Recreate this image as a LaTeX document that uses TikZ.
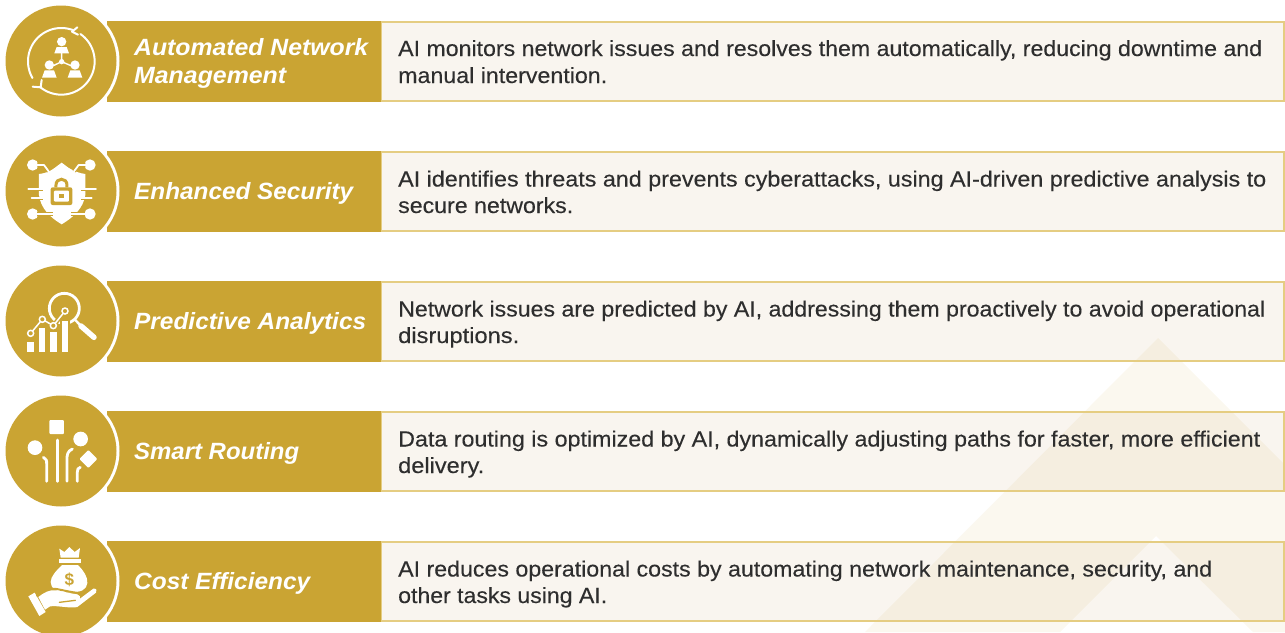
\documentclass[tikz,border=0pt]{standalone}
\usepackage{fontspec}
\usepackage{graphicx}
\setmainfont{Liberation Sans}
\newfontfamily\bodyfont[FakeBold=0.2]{Liberation Sans}
\definecolor{gold}{HTML}{CAA433}
\definecolor{creamy}{HTML}{F9F5EF}
\definecolor{edgegold}{HTML}{E5CD82}
\definecolor{inktext}{HTML}{2E2E2E}
\newcommand{\fitw}[2]{\resizebox{#1pt}{\height}{#2}}
\tikzset{
  x=1pt,y=-1pt,
  goldbar/.style={fill=gold,draw=none},
  descbox/.style={fill=creamy,draw=none},
  halo/.style={circle,fill=white,draw=none,minimum size=117pt,inner sep=0pt},
  disc/.style={circle,fill=gold,draw=none,minimum size=111pt,inner sep=0pt},
  titletext/.style={anchor=base west,inner sep=0pt,text=white,font=\fontsize{23.5}{26}\selectfont\bfseries\itshape},
  bodytext/.style={anchor=base west,inner sep=0pt,text=inktext,font=\fontsize{22}{24}\bodyfont},
  ico/.style={draw=white,line width=2pt,line cap=round,line join=round},
  zoomed/.style={shift={(0,#1)},x=0.33333pt,y=-0.33333pt},
}
\begin{document}
\begin{tikzpicture}
\useasboundingbox (0,0) rectangle (1285,632);
\fill[white] (0,0) rectangle (1285,632);
% cream boxes
\foreach \t in {21,151,281,411,541}{
  \fill[descbox] (381,\t+0.5) rectangle (1284,\t+80);
}
% pale chevron
\fill[gold,opacity=0.075] (1158,338) -- (1285,465) -- (1285,632) -- (1253,632) -- (1156,536) -- (1060,632) -- (865,632) -- cycle;
% box edges and gold bars
\foreach \t in {21,151,281,411,541}{
  \draw[edgegold,line width=2pt] (381,\t+0.5) rectangle (1284,\t+80);
  \fill[goldbar] (107,\t) rectangle (381,\t+81);
}
\node[halo] (h1) at (61,61) {};  \node[disc] (d1) at (61,61) {};
\node[halo] (h2) at (61,191) {}; \node[disc] (d2) at (61,191) {};
\node[halo] (h3) at (61,321) {}; \node[disc] (d3) at (61,321) {};
\node[halo] (h4) at (61,451) {}; \node[disc] (d4) at (61,451) {};
\node[halo] (h5) at (61,581) {}; \node[disc] (d5) at (61,581) {};

% ICON 1
\begin{scope}[zoomed=0]
\draw[ico] plot[domain=-55:128,samples=40,smooth] ({184+100*cos(\x)},{184+100*sin(\x)});
\draw[ico] plot[domain=150:290,samples=40,smooth] ({184+100*cos(\x)},{184+100*sin(\x)});
\draw[ico] (232,82) -- (216,95) -- (234,104);
\draw[ico] (98,260) -- (122,262) -- (125,240);
\fill[white] (185,125) circle[radius=14];
\fill[white] (148,195) circle[radius=14];
\fill[white] (225,195) circle[radius=14];
\fill[white] (170,141) -- (200,141) -- (207,160) -- (163,160) -- cycle;
\fill[white] (134,211) -- (162,211) -- (170,233) -- (126,233) -- cycle;
\fill[white] (211,211) -- (239,211) -- (247,233) -- (203,233) -- cycle;
\draw[ico,line width=1.4pt] (185,158) -- (185,185) -- (160,197);
\draw[ico,line width=1.4pt] (185,185) -- (213,197);
\fill[white] (185,185) circle[radius=8];
\end{scope}

% ICON 2
\begin{scope}[zoomed=130]
\fill[white] (185,98) -- (205,113) .. controls (225,125) and (240,130) .. (256,132) -- (256,195) .. controls (250,235) and (220,262) .. (185,283) .. controls (150,262) and (122,235) .. (117,195) -- (117,132) .. controls (135,130) and (150,125) .. (165,113) -- cycle;
\fill[white] (98,105) circle[radius=17];
\fill[white] (270,105) circle[radius=17];
\fill[white] (98,252) circle[radius=17];
\fill[white] (270,252) circle[radius=17];
\draw[gold,line width=3.6pt,line join=round] (112,105) -- (132,105) -- (146,124);
\draw[gold,line width=3.6pt,line join=round] (256,105) -- (236,105) -- (222,124);
\draw[gold,line width=3.6pt] (112,252) -- (158,252);
\draw[gold,line width=3.6pt] (256,252) -- (212,252);
\draw[ico,line width=1.8pt] (98,105) -- (132,105) -- (146,124);
\draw[ico,line width=1.8pt] (270,105) -- (236,105) -- (222,124);
\draw[ico,line width=1.8pt] (98,252) -- (158,252);
\draw[ico,line width=1.8pt] (270,252) -- (212,252);
\draw[gold,line width=3.6pt] (100,178) -- (128,178);
\draw[gold,line width=3.6pt] (100,205) -- (128,205);
\draw[gold,line width=3.6pt] (272,178) -- (244,178);
\draw[gold,line width=3.6pt] (272,205) -- (244,205);
\draw[ico,line width=1.8pt] (85,178) -- (128,178);
\draw[ico,line width=1.8pt] (95,205) -- (128,205);
\draw[ico,line width=1.8pt] (288,178) -- (244,178);
\draw[ico,line width=1.8pt] (275,205) -- (244,205);
\fill[gold,rounded corners=2pt] (152,172) rectangle (217,225);
\fill[white,rounded corners=1pt] (162,182) rectangle (207,215);
\fill[gold] (178,192) rectangle (191,205);
\draw[gold,line width=3pt] (168,172) -- (168,165) .. controls (168,142) and (201,142) .. (201,165) -- (201,172);
\end{scope}

% ICON 3
\begin{scope}[zoomed=260]
\draw[white,line width=2.8pt] (193,145) circle[radius=45];
\draw[white,line width=5.5pt,line cap=round] (243,198) -- (282,232);
\draw[white,line width=2.4pt] (224,178) -- (243,198);
\foreach \xa/\ya in {82/245,116/205,150/215,185/183}{
  \filldraw[draw=gold,line width=2pt,fill=white] (\xa-3,\ya-3) rectangle (\xa+23,278);
}
\draw[gold,line width=4.5pt,line join=round] (92,220) -- (127,178) -- (160,197) -- (195,153);
\draw[ico,line width=1.5pt] (92,220) -- (127,178) -- (160,197) -- (195,153);
\foreach \p in {(92,220),(127,178),(160,197),(195,153)}{
  \filldraw[draw=white,fill=gold,line width=1.5pt] \p circle[radius=9];
}
\end{scope}

% ICON 4
\begin{scope}[zoomed=390]
\fill[white,rounded corners=1pt] (148,90) rectangle (192,132);
\fill[white] (242,147) circle[radius=22];
\fill[white] (105,173) circle[radius=22];
\fill[white,rounded corners=1pt] (265,180) -- (292,207) -- (265,234) -- (238,207) -- cycle;
\begin{scope}[line width=2.8pt,line cap=round]
\draw[white] (172,150) -- (172,274);
\draw[white] (130,202) .. controls (140,210) .. (140,222) -- (140,274);
\draw[white] (217,177) .. controls (203,183) and (201,195) .. (201,205) -- (201,274);
\draw[white] (241,232) .. controls (233,236) .. (232,246) -- (232,274);
\end{scope}
\end{scope}

% ICON 5
\begin{scope}[zoomed=517]
\fill[white] (178,95) -- (193,105) -- (208,90) -- (224,105) -- (240,93) -- (236,122) -- (182,122) -- cycle;
\fill[white] (178,127) rectangle (242,139);
\fill[white] (186,144) -- (234,144) .. controls (250,160) and (264,180) .. (262,198) .. controls (260,218) and (245,226) .. (208,226) .. controls (170,226) and (152,215) .. (152,195) .. controls (152,178) and (170,160) .. (186,144) -- cycle;
\node[text=gold,inner sep=0pt,font=\fontsize{17}{17}\selectfont\bfseries] (dollar) at (208,188) {\$};
\fill[white] (85,238) -- (104,227) -- (137,285) -- (118,297) -- cycle;
\draw[gold,line width=2pt] (110,238) .. controls (130,222) and (150,212) .. (170,216) .. controls (195,221) and (215,226) .. (236,228);
\fill[white] (115,240) .. controls (130,228) and (150,216) .. (170,220) .. controls (195,225) and (215,230) .. (232,232) .. controls (240,235) and (242,240) .. (240,245) -- (280,215) .. controls (290,213) and (292,222) .. (288,227) -- (232,270) .. controls (210,275) and (175,265) .. (150,268) -- (135,278) -- cycle;
\draw[gold,line width=1.3pt,line cap=round] (178,256) -- (226,250);
\end{scope}

% titles
\node[titletext] (t1a) at (134,55) {\fitw{234}{Automated Network}};
\node[titletext] (t1b) at (134,83) {\fitw{152}{Management}};
\node[titletext] (t2) at (134,199) {\fitw{219}{Enhanced Security}};
\node[titletext] (t3) at (134,329) {\fitw{232}{Predictive Analytics}};
\node[titletext] (t4) at (134,459) {\fitw{165}{Smart Routing}};
\node[titletext] (t5) at (134,589) {\fitw{176}{Cost Efficiency}};
% descriptions
\node[bodytext] (b1a) at (398,56) {\fitw{864}{AI monitors network issues and resolves them automatically, reducing downtime and}};
\node[bodytext] (b1b) at (398,83) {\fitw{209}{manual intervention.}};
\node[bodytext] (b2a) at (398,186.5) {\fitw{868}{AI identifies threats and prevents cyberattacks, using AI-driven predictive analysis to}};
\node[bodytext] (b2b) at (398,213) {\fitw{175}{secure networks.}};
\node[bodytext] (b3a) at (398,316.5) {\fitw{867}{Network issues are predicted by AI, addressing them proactively to avoid operational}};
\node[bodytext] (b3b) at (398,343) {\fitw{121}{disruptions.}};
\node[bodytext] (b4a) at (398,446.5) {\fitw{862}{Data routing is optimized by AI, dynamically adjusting paths for faster, more efficient}};
\node[bodytext] (b4b) at (398,473) {\fitw{86}{delivery.}};
\node[bodytext] (b5a) at (398,576.5) {\fitw{814}{AI reduces operational costs by automating network maintenance, security, and}};
\node[bodytext] (b5b) at (398,603) {\fitw{209}{other tasks using AI.}};
\end{tikzpicture}
\end{document}
